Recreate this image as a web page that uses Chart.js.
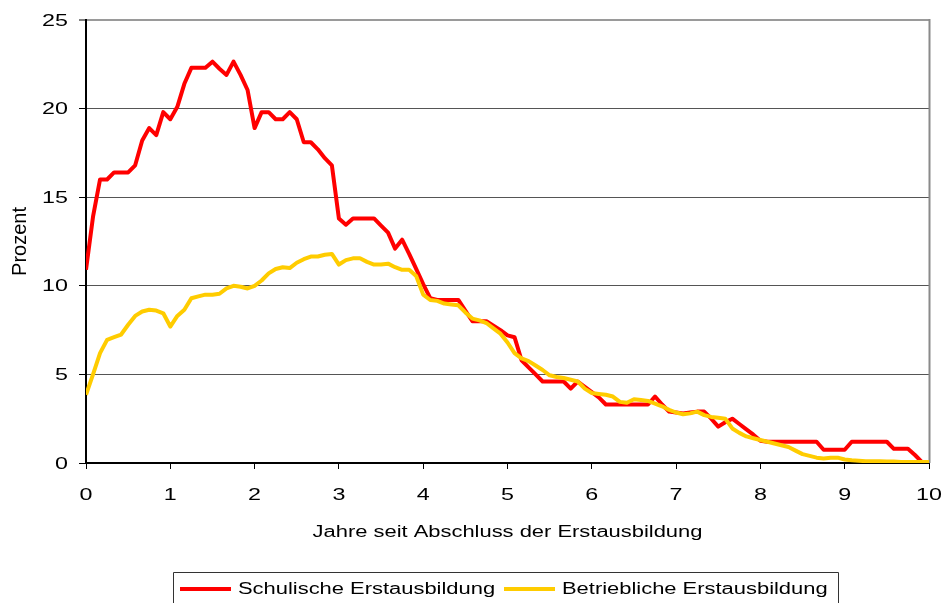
<!DOCTYPE html>
<html>
<head>
<meta charset="utf-8">
<script src="https://cdn.jsdelivr.net/npm/chart.js@4/dist/chart.umd.min.js"></script>
<style>
  html, body { margin: 0; padding: 0; background: #fff; }
  canvas { display: block; }
</style>
</head>
<body>
<canvas id="c" width="943" height="603"></canvas>
<script>
// Monthly values (months 0..120 after end of initial training), percent
const seriesNames = ['Schulische Erstausbildung', 'Betriebliche Erstausbildung'];
const schulisch = [
  10.9, 13.9, 16.0, 16.0, 16.4, 16.4, 16.4, 16.8, 18.2, 18.9,
  18.5, 19.8, 19.4, 20.1, 21.4, 22.3, 22.3, 22.3, 22.65, 22.25,
  21.9, 22.65, 21.9, 21.05, 18.9, 19.8, 19.8, 19.4, 19.4, 19.8,
  19.4, 18.1, 18.1, 17.7, 17.2, 16.8, 13.8, 13.45, 13.8, 13.8,
  13.8, 13.8, 13.4, 13.0, 12.1, 12.6, 11.8, 10.95, 10.1, 9.3,
  9.2, 9.2, 9.2, 9.2, 8.6, 8.0, 8.0, 8.0, 7.75, 7.5,
  7.2, 7.1, 5.8, 5.4, 5.0, 4.6, 4.6, 4.6, 4.6, 4.2,
  4.6, 4.3, 4.0, 3.7, 3.3, 3.3, 3.3, 3.3, 3.3, 3.3,
  3.3, 3.75, 3.3, 2.9, 2.85, 2.8, 2.85, 2.9, 2.9, 2.5,
  2.05, 2.3, 2.5, 2.2, 1.9, 1.6, 1.25, 1.2, 1.2, 1.2,
  1.2, 1.2, 1.2, 1.2, 1.2, 0.75, 0.75, 0.75, 0.75, 1.2,
  1.2, 1.2, 1.2, 1.2, 1.2, 0.8, 0.8, 0.8, 0.45, 0.05,
  0.0
];
const betrieblich = [
  3.85, 5.0, 6.2, 6.95, 7.1, 7.25, 7.8, 8.3, 8.55, 8.65,
  8.6, 8.45, 7.7, 8.3, 8.65, 9.3, 9.4, 9.5, 9.5, 9.55,
  9.85, 10.0, 9.95, 9.85, 10.0, 10.3, 10.7, 10.95, 11.05, 11.0,
  11.3, 11.5, 11.65, 11.65, 11.75, 11.8, 11.2, 11.45, 11.55, 11.55,
  11.35, 11.2, 11.2, 11.25, 11.05, 10.9, 10.9, 10.55, 9.5, 9.2,
  9.15, 9.0, 8.95, 8.9, 8.5, 8.15, 8.05, 7.9, 7.6, 7.3,
  6.8, 6.2, 5.9, 5.75, 5.5, 5.25, 4.95, 4.85, 4.8, 4.7,
  4.6, 4.2, 3.95, 3.9, 3.85, 3.75, 3.45, 3.4, 3.6, 3.55,
  3.5, 3.35, 3.2, 3.0, 2.85, 2.75, 2.8, 2.9, 2.7, 2.6,
  2.55, 2.5, 1.95, 1.7, 1.5, 1.4, 1.3, 1.2, 1.1, 1.0,
  0.9, 0.7, 0.5, 0.4, 0.3, 0.25, 0.3, 0.3, 0.2, 0.15,
  0.13, 0.1, 0.1, 0.1, 0.08, 0.08, 0.05, 0.05, 0.05, 0.05,
  0.05
];
const xTitle = 'Jahre seit Abschluss der Erstausbildung';
const yTitle = 'Prozent';
const seriesColors = ['#FF0000', '#FFCC00'];

const FONT = '"Liberation Sans", Arial, sans-serif';
const SX = 1.37; // horizontal stretch of horizontal texts in the reference

function toPoints(arr) {
  return arr.map((v, i) => ({ x: i / 12, y: v }));
}

function stretchedText(ctx, text, x, y, align, size) {
  ctx.save();
  ctx.translate(x, y);
  ctx.scale(SX, 1);
  ctx.font = size + 'px ' + FONT;
  ctx.fillStyle = '#000';
  ctx.textAlign = align;
  ctx.textBaseline = 'middle';
  ctx.fillText(text, 0, 0);
  ctx.restore();
}

const framePlugin = {
  id: 'frame',
  beforeDatasetsDraw(chart) {
    const { ctx, chartArea: a } = chart;
    ctx.save();
    ctx.strokeStyle = '#8a8a8a';
    ctx.lineWidth = 2;
    ctx.beginPath();
    ctx.moveTo(a.right + 0.5, a.top - 1);
    ctx.lineTo(a.right + 0.5, a.bottom);
    ctx.stroke();
    ctx.restore();
  },
  afterDraw(chart) {
    const { ctx, chartArea: a, scales } = chart;
    const xs = scales.x, ys = scales.y;
    // y tick labels
    ys.ticks.forEach(t => {
      stretchedText(ctx, String(t.value), a.left - 18, ys.getPixelForValue(t.value) + 1, 'right', 17);
    });
    // x tick labels
    xs.ticks.forEach(t => {
      stretchedText(ctx, String(t.value), xs.getPixelForValue(t.value), a.bottom + 32, 'center', 17);
    });
    // x title
    stretchedText(ctx, xTitle, (a.left + a.right) / 2, a.bottom + 70, 'center', 16);
    // legend
    const boxL = 173, boxR = 838, boxT = 572.5, midY = 589;
    ctx.save();
    ctx.strokeStyle = '#333';
    ctx.lineWidth = 1;
    ctx.beginPath();
    ctx.moveTo(boxL + 0.5, chart.height + 5);
    ctx.lineTo(boxL + 0.5, boxT);
    ctx.lineTo(boxR + 0.5, boxT);
    ctx.lineTo(boxR + 0.5, chart.height + 5);
    ctx.stroke();
    ctx.restore();
    const items = [
      { lx: 180, tx: 238 },
      { lx: 504, tx: 562 }
    ];
    chart.data.datasets.forEach((ds, i) => {
      const it = items[i];
      ctx.save();
      ctx.strokeStyle = ds.borderColor;
      ctx.lineWidth = 4;
      ctx.beginPath();
      ctx.moveTo(it.lx, midY);
      ctx.lineTo(it.lx + 51, midY);
      ctx.stroke();
      ctx.restore();
      stretchedText(ctx, ds.label, it.tx, midY + 1, 'left', 16);
    });
  }
};

new Chart(document.getElementById('c'), {
  type: 'line',
  data: {
    datasets: [
      {
        label: seriesNames[0],
        data: toPoints(schulisch),
        borderColor: seriesColors[0],
        backgroundColor: seriesColors[0],
        borderWidth: 4,
        pointRadius: 0,
        tension: 0,
        borderJoinStyle: 'round',
        order: 2
      },
      {
        label: seriesNames[1],
        data: toPoints(betrieblich),
        borderColor: seriesColors[1],
        backgroundColor: seriesColors[1],
        borderWidth: 4,
        pointRadius: 0,
        tension: 0,
        borderJoinStyle: 'round',
        order: 1
      }
    ]
  },
  options: {
    responsive: false,
    animation: false,
    devicePixelRatio: 1,
    layout: { padding: { left: 0, top: 20, right: 14, bottom: 0 } },
    plugins: {
      legend: { display: false },
      tooltip: { enabled: false }
    },
    scales: {
      x: {
        type: 'linear',
        min: 0,
        max: 10,
        ticks: { stepSize: 1, display: false },
        grid: {
          drawOnChartArea: false,
          drawTicks: true,
          tickLength: 6,
          tickColor: '#000',
          tickWidth: 1
        },
        border: { color: '#000', width: 2 },
        afterFit(scale) { scale.height = 140; }
      },
      y: {
        min: 0,
        max: 25,
        ticks: { stepSize: 5, display: false },
        grid: {
          color: ctx => (ctx.tick && ctx.tick.value === 25) ? '#9a9a9a' : '#555',
          lineWidth: ctx => (ctx.tick && ctx.tick.value === 25) ? 2 : 1,
          drawTicks: true,
          tickLength: 7,
          tickColor: '#000',
          tickWidth: 1
        },
        border: { color: '#000', width: 2 },
        title: {
          display: true,
          text: yTitle,
          color: '#000',
          font: { family: FONT, size: 20 },
          padding: { top: 8, bottom: 0 }
        },
        afterFit(scale) { scale.width = 86; }
      }
    }
  },
  plugins: [framePlugin]
});
</script>
</body>
</html>
